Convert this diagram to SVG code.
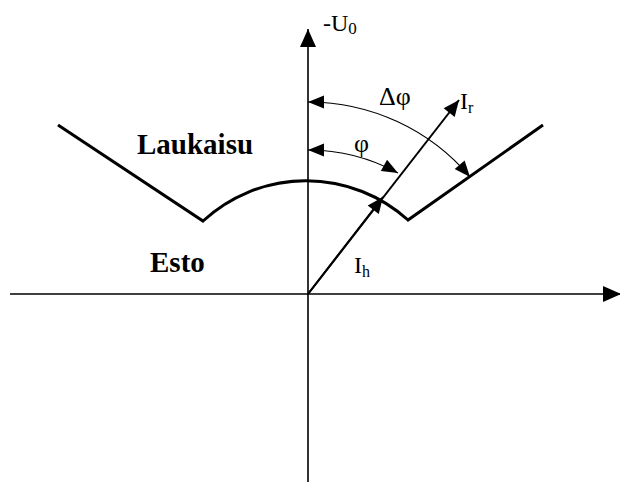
<svg xmlns="http://www.w3.org/2000/svg" width="620" height="482" viewBox="0 0 620 482">
<style>
.ax{stroke:#000;stroke-width:1.6;fill:none}
.thick{stroke:#000;stroke-width:3;fill:none;stroke-linejoin:miter}
.vec{stroke:#000;stroke-width:2;fill:none}
.ang{stroke:#000;stroke-width:1.1;fill:none}
.t{font-family:"Liberation Serif","Times New Roman",serif;fill:#000}
.b{font-weight:bold;font-size:29px}
</style>
<defs>
<marker id="ah" markerUnits="userSpaceOnUse" markerWidth="20" markerHeight="18" viewBox="0 0 20 18" refX="19" refY="9" orient="auto">
<path d="M1,1 L19,9 L1,17 Z" fill="#000"/>
</marker>
<marker id="av" markerUnits="userSpaceOnUse" markerWidth="18" markerHeight="16" viewBox="0 0 18 16" refX="17" refY="8" orient="auto">
<path d="M1,1 L17,8 L1,15 Z" fill="#000"/>
</marker>
<marker id="aa" markerUnits="userSpaceOnUse" markerWidth="18" markerHeight="16" viewBox="0 0 18 16" refX="17" refY="8" orient="auto-start-reverse">
<path d="M1,1.5 L17,8 L1,14.5 Z" fill="#000"/>
</marker>
</defs>
<g id="connectors">
<line class="ax" x1="308" y1="482" x2="308" y2="29" marker-end="url(#ah)"/>
<line class="ax" x1="10" y1="294" x2="621" y2="294" marker-end="url(#ah)"/>
<line class="vec" x1="308" y1="294" x2="459" y2="100" marker-end="url(#av)"/>
<line class="vec" x1="308" y1="294" x2="383" y2="197" marker-end="url(#av)"/>
<path class="ang" d="M308,102 A212,212 0 0 1 470,177" marker-start="url(#aa)" marker-end="url(#aa)"/>
<path class="ang" d="M308,150 A188,188 0 0 1 398,173" marker-start="url(#aa)" marker-end="url(#aa)"/>
</g>
<g id="characteristic">
<path class="thick" d="M58,125 L203,221 A152,152 0 0 1 408,220 L543,125"/>
</g>
<g id="labels">
<text class="t" x="323" y="31" font-size="24">-U<tspan font-size="17" dy="3">0</tspan></text>
<text class="t" x="379" y="105" font-size="26">Δφ</text>
<text class="t" x="460" y="109" font-size="24">I<tspan font-size="16" dy="4">r</tspan></text>
<text class="t" x="354" y="152" font-size="26">φ</text>
<text class="t" x="354" y="273" font-size="24">I<tspan font-size="16" dy="4">h</tspan></text>
<text class="t b" x="137" y="154">Laukaisu</text>
<text class="t b" x="150" y="272">Esto</text>
</g>
</svg>
